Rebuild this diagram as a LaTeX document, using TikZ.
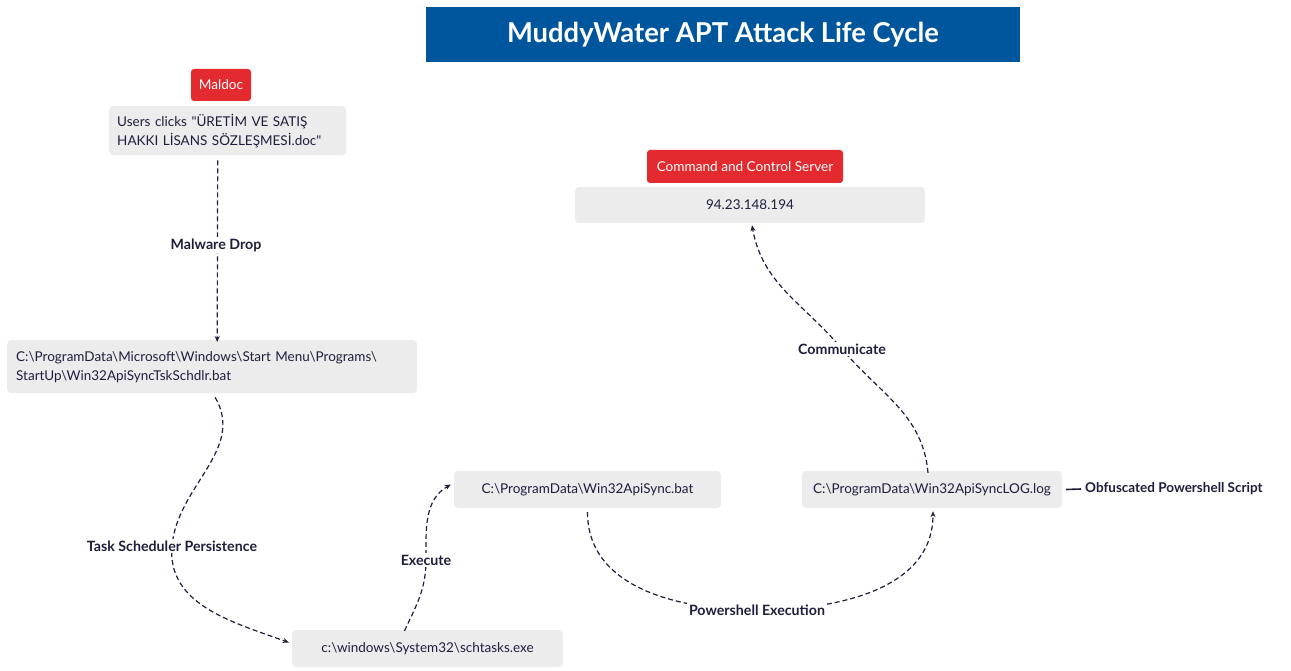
\documentclass[tikz,border=0pt]{standalone}
\usepackage{fontspec}
\setmainfont{Lato}
\usetikzlibrary{arrows.meta,calc}
\definecolor{titleblue}{HTML}{00569C}
\definecolor{redbox}{HTML}{E32B2F}
\definecolor{greybox}{HTML}{ECECEC}
\definecolor{ink}{HTML}{1E1E3C}
\tikzset{
  greyb/.style={fill=greybox, rounded corners=4pt, inner sep=0pt, font=\fontsize{13.5}{19}\selectfont, text=ink},
  redb/.style={fill=redbox, rounded corners=3pt, inner sep=0pt, font=\fontsize{13.6}{15}\selectfont, text=white},
  conn/.style={draw=ink, line width=1.2pt, dash pattern=on 5pt off 3pt, -{Stealth[length=6pt,width=5pt]}},
  lbl/.style={fill=white, inner sep=2pt, font=\bfseries\fontsize{14.2}{16}\selectfont, text=ink},
}
\begin{document}
\begin{tikzpicture}[x=1pt,y=1pt]
\useasboundingbox (0,0) rectangle (1291,-671);
% title
\node[fill=titleblue, minimum width=594pt, minimum height=55pt, inner sep=0pt, text=white, font=\fontsize{27.4}{30}\selectfont\bfseries] (title) at (723,-34.5) {MuddyWater APT Attack Life Cycle};
% red headers
\node[redb, minimum width=60pt, minimum height=32pt] (maldoc) at (221,-85) {Maldoc};
\node[redb, minimum width=196pt, minimum height=33pt] (cc) at (745,-166.5) {Command and Control Server};
% grey boxes
\node[greyb, minimum width=237pt, minimum height=49pt, anchor=north west, align=left, text width=221pt] (users) at (109,-106) {Users clicks \textquotedbl ÜRETİM VE SATIŞ\\HAKKI LİSANS SÖZLEŞMESİ.doc\textquotedbl};
\node[greyb, minimum width=350pt, minimum height=36pt] (ip) at (750,-205) {94.23.148.194};
\node[greyb, minimum width=410pt, minimum height=53pt, anchor=north west, align=left, text width=392pt] (startup) at (7,-340) {C:\textbackslash ProgramData\textbackslash Microsoft\textbackslash Windows\textbackslash Start Menu\textbackslash Programs\textbackslash\\StartUp\textbackslash Win32ApiSyncTskSchdlr.bat};
\node[greyb, minimum width=267pt, minimum height=37pt] (sync) at (587.5,-489.5) {C:\textbackslash ProgramData\textbackslash Win32ApiSync.bat};
\node[greyb, minimum width=260pt, minimum height=37pt] (log) at (932,-489.5) {C:\textbackslash ProgramData\textbackslash Win32ApiSyncLOG.log};
\node[greyb, minimum width=271pt, minimum height=37pt] (schtasks) at (427.5,-648.5) {c:\textbackslash windows\textbackslash System32\textbackslash schtasks.exe};
% side label
\node[anchor=west, inner sep=0pt, font=\bfseries\fontsize{13.5}{15}\selectfont, text=ink] (obf) at (1085,-489) {Obfuscated Powershell Script};
\draw[ink, line width=1.6pt] ($(log.east)+(4,0)$) -- ($(obf.west)+(-4,0)$);
% connectors
\coordinate (md) at (216,-245);
\draw[conn] ($(users.south)+(-10,-5)$) -- ($(startup.north)+(5,-2)$);
\node[lbl] at (md) {Malware Drop};

\coordinate (tsp) at (172,-546);
\draw[conn] ($(startup.south)+(3,-4)$) to[out=-60,in=85] (tsp) to[out=-95,in=160] ($(schtasks.west)+(-3,6)$);
\node[lbl] at (tsp) {Task Scheduler Persistence};

\coordinate (ex) at (426,-560);
\draw[conn] ($(schtasks.north)+(-23,-1)$) to[out=65,in=-90] (ex) to[out=90,in=-150] ($(sync.west)+(-3,5)$);
\node[lbl] at (ex) {Execute};

\coordinate (pe) at (757,-610);
\draw[conn] ($(sync.south)+(0,-4)$) to[out=-90,in=180] (pe) to[out=0,in=-90] ($(log.south)+(1,-3)$);
\node[lbl] at (pe) {Powershell Execution};

\coordinate (cm) at (842,-349);
\draw[conn] ($(log.north)+(-4,-2)$) to[out=95,in=-50] (cm) to[out=130,in=-80] ($(ip.south)+(2,-2)$);
\node[lbl] at (cm) {Communicate};
\end{tikzpicture}
\end{document}
